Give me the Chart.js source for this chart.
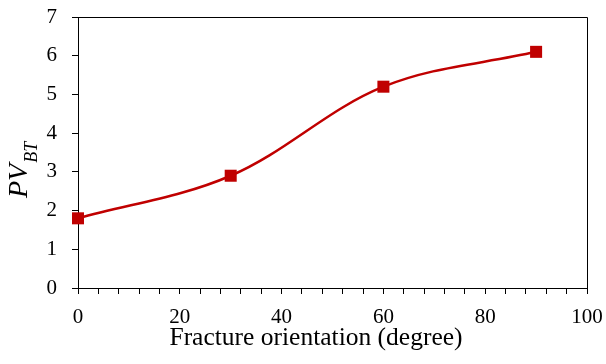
<!DOCTYPE html>
<html>
<head>
<meta charset="utf-8">
<script src="https://cdn.jsdelivr.net/npm/chart.js@4.4.0/dist/chart.umd.min.js"></script>
<style>
  html, body { margin:0; padding:0; background:#fff; }
  #wrap { width:606px; height:364px; }
</style>
</head>
<body>
<div id="wrap"><canvas id="pvChart" width="606" height="364"></canvas></div>
<script>
// —————— DATA ——————
const orientation = [0, 30, 60, 90];        // degree
const pvBT        = [1.8, 2.9, 5.2, 6.1];
const xTicks      = [0, 20, 40, 60, 80, 100];
const yTicks      = [0, 1, 2, 3, 4, 5, 6, 7];
const xLabel      = 'Fracture orientation (degree)';

const SERIF = "'Liberation Serif', 'Times New Roman', serif";
const RED   = '#C00000';

// box on top + right of the plot area
const frameBox = {
  id:'frameBox',
  afterDatasetsDraw(chart){
    const {ctx, chartArea:a} = chart;
    ctx.save();
    ctx.strokeStyle = '#000';
    ctx.lineWidth = 1;
    ctx.beginPath();
    ctx.moveTo(a.left, Math.round(a.top)+0.5);
    ctx.lineTo(Math.round(a.right)+0.5, Math.round(a.top)+0.5);
    ctx.lineTo(Math.round(a.right)+0.5, a.bottom);
    ctx.stroke();
    ctx.restore();
  }
};

// axis titles: x title (sits a bit left of the plot centre) + PV_BT with subscript
const axisTitles = {
  id:'axisTitles',
  afterDraw(chart){
    const ctx = chart.ctx;
    ctx.save();
    ctx.fillStyle = '#000';
    ctx.textBaseline = 'alphabetic';

    ctx.textAlign = 'center';
    ctx.font = '25.5px ' + SERIF;
    ctx.fillText(xLabel, 316, 345);

    ctx.translate(27, 198);
    ctx.rotate(-Math.PI/2);
    ctx.textAlign = 'left';
    ctx.font = 'italic 28px ' + SERIF;
    ctx.fillText('PV', 0, 0);
    const w = ctx.measureText('PV').width;
    ctx.font = 'italic 18px ' + SERIF;
    ctx.fillText('BT', w + 1, 10);
    ctx.restore();
  }
};

window.addEventListener('DOMContentLoaded', function () {
  const ctx = document.getElementById('pvChart');
  new Chart(ctx, {
    type:'line',
    data:{
      datasets:[{
        label:'PV_BT',
        data: orientation.map((x,i)=>({ x:x, y:pvBT[i] })),
        borderColor:RED,
        backgroundColor:RED,
        borderWidth:2.5,
        tension:0.35,
        pointStyle:'rect',
        pointRadius:8.5,
        pointHoverRadius:8.5,
        pointBorderWidth:0,
        clip:false
      }]
    },
    options:{
      responsive:false,
      animation:false,
      layout:{ padding:{ top:17, right:19, left:0, bottom:0 } },
      plugins:{ legend:{ display:false }, tooltip:{ enabled:false } },
      scales:{
        x:{
          type:'linear', min:0, max:100,
          afterFit: s => { s.height = 76; s.paddingLeft = 0; s.paddingRight = 0; },
          afterBuildTicks: s => {
            const t = [];
            for (let v = 0; v <= 100; v += 4) t.push({ value:v });
            xTicks.forEach(v => { if (v % 4) t.push({ value:v }); });
            s.ticks = t;
          },
          ticks:{
            autoSkip:false, maxRotation:0, padding:11,
            color:'#000',
            font:{ family:SERIF, size:21 },
            callback: v => xTicks.includes(v) ? String(v) : ''
          },
          grid:{ drawOnChartArea:false, drawTicks:true, tickLength:6, color:'#000' },
          border:{ display:true, color:'#000', width:1 }
        },
        y:{
          type:'linear', min:0, max:7,
          afterFit: s => { s.width = 78; s.paddingTop = 0; s.paddingBottom = 0; },
          afterBuildTicks: s => { s.ticks = yTicks.map(v => ({ value:v })); },
          ticks:{
            padding:15, color:'#000',
            font:{ family:SERIF, size:21 }
          },
          grid:{ drawOnChartArea:false, drawTicks:true, tickLength:6, color:'#000' },
          border:{ display:true, color:'#000', width:1 }
        }
      }
    },
    plugins:[frameBox, axisTitles]
  });
});
</script>
</body>
</html>
